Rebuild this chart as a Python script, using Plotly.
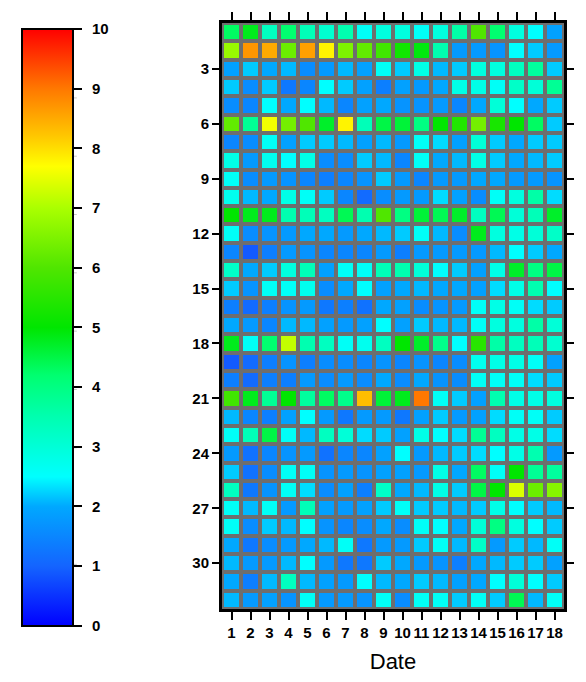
import plotly.graph_objects as go

dates = list(range(1, 19))
rows = list(range(1, 33))
y_ticks = [3, 6, 9, 12, 15, 18, 21, 24, 27, 30]
cbar_ticks = list(range(0, 11))

values = [
    [4.3, 4.8, 3.3, 4.2, 3.4, 3.1, 3.5, 2.6, 2.9, 2.9, 2.6, 2.9, 3.6, 6.0, 4.2, 2.9, 2.5, 1.9],
    [6.8, 8.7, 8.5, 6.3, 8.6, 7.8, 6.5, 6.2, 5.8, 5.2, 4.9, 3.5, 1.8, 1.8, 1.7, 2.5, 2.2, 1.8],
    [1.9, 2.2, 2.0, 2.1, 1.6, 1.8, 2.1, 1.9, 2.6, 2.2, 2.8, 2.1, 2.2, 2.9, 2.9, 3.3, 3.7, 2.2],
    [2.2, 1.6, 2.2, 1.3, 1.5, 2.5, 2.2, 1.9, 1.4, 1.9, 1.8, 2.0, 2.8, 2.8, 2.6, 3.2, 3.0, 3.8],
    [1.6, 1.5, 2.5, 2.0, 2.5, 2.1, 1.5, 1.9, 2.0, 1.7, 1.7, 1.8, 1.5, 2.0, 3.0, 2.5, 2.0, 2.2],
    [6.2, 3.8, 7.6, 6.4, 6.0, 4.7, 7.8, 3.4, 4.5, 4.6, 4.0, 5.0, 5.4, 6.4, 5.3, 5.0, 4.3, 2.2],
    [1.5, 1.6, 2.6, 1.9, 2.2, 2.2, 2.1, 1.9, 2.1, 1.8, 2.6, 2.3, 1.9, 3.0, 2.2, 2.0, 2.2, 2.2],
    [2.8, 1.8, 2.7, 2.5, 2.8, 1.6, 1.6, 2.2, 2.1, 1.5, 2.6, 2.0, 2.1, 2.8, 2.2, 2.0, 2.1, 2.2],
    [2.6, 1.6, 1.8, 1.7, 1.5, 1.4, 1.5, 1.7, 2.2, 1.8, 1.5, 1.8, 1.8, 2.0, 2.0, 1.8, 1.8, 1.7],
    [2.7, 2.1, 2.0, 2.8, 2.6, 2.2, 1.5, 1.1, 1.6, 1.8, 1.8, 2.3, 1.9, 1.6, 2.6, 2.9, 3.6, 2.3],
    [5.0, 4.8, 4.8, 3.5, 3.4, 3.3, 4.4, 3.5, 6.0, 4.0, 4.6, 4.4, 4.7, 3.3, 4.4, 3.0, 3.4, 4.7],
    [2.6, 1.6, 1.7, 1.8, 2.0, 2.0, 1.8, 2.0, 2.1, 2.2, 2.6, 2.1, 1.6, 4.8, 2.9, 2.8, 3.0, 3.2],
    [1.5, 0.9, 1.4, 1.8, 1.7, 1.5, 1.5, 1.5, 1.8, 1.4, 1.8, 1.8, 1.8, 1.8, 2.1, 2.5, 2.2, 2.0],
    [3.2, 2.0, 2.2, 2.9, 3.4, 1.9, 2.6, 2.6, 3.4, 3.5, 3.0, 2.5, 2.2, 1.9, 2.8, 4.7, 4.0, 4.5],
    [2.2, 1.7, 2.6, 2.6, 2.7, 1.6, 2.0, 2.5, 1.9, 2.0, 2.1, 2.0, 2.0, 1.9, 2.3, 2.8, 3.5, 2.5],
    [1.4, 1.1, 1.4, 1.7, 1.8, 1.3, 1.4, 1.2, 2.0, 1.9, 1.6, 1.7, 1.8, 2.6, 2.8, 2.6, 2.3, 2.2],
    [2.0, 1.8, 1.5, 2.1, 2.1, 1.9, 1.8, 1.9, 2.5, 1.9, 2.2, 2.1, 2.1, 2.6, 2.9, 2.9, 3.6, 3.0],
    [4.8, 2.6, 4.2, 7.2, 3.5, 3.3, 2.6, 2.7, 3.3, 5.0, 4.7, 3.9, 2.5, 5.5, 3.6, 3.3, 3.4, 3.1],
    [0.9, 1.1, 1.4, 1.7, 1.4, 1.6, 1.6, 1.5, 1.7, 1.5, 1.7, 1.5, 1.6, 2.7, 2.8, 2.8, 2.6, 1.9],
    [1.4, 1.1, 1.4, 1.4, 1.8, 1.6, 1.8, 1.6, 2.0, 1.6, 2.0, 1.7, 1.6, 2.6, 2.6, 2.6, 2.3, 2.2],
    [5.8, 4.8, 3.8, 5.0, 3.7, 4.3, 3.9, 8.3, 4.6, 4.8, 9.0, 2.6, 2.2, 1.9, 3.5, 2.8, 2.8, 2.9],
    [2.1, 1.5, 1.4, 1.9, 2.5, 1.8, 1.3, 1.8, 1.8, 1.3, 1.9, 2.2, 1.8, 1.9, 2.3, 2.6, 2.6, 2.2],
    [2.6, 3.4, 4.5, 2.6, 2.1, 3.3, 3.0, 2.3, 2.2, 1.9, 2.8, 2.5, 2.3, 3.8, 3.3, 2.8, 2.8, 2.3],
    [1.8, 1.2, 1.5, 1.7, 1.8, 1.2, 1.5, 1.5, 1.9, 2.5, 1.8, 2.1, 2.2, 2.3, 2.5, 2.8, 3.5, 1.8],
    [2.2, 1.2, 1.6, 2.6, 2.6, 1.7, 1.8, 1.7, 1.9, 1.9, 1.8, 2.8, 2.0, 4.3, 2.6, 5.0, 3.8, 3.7],
    [3.3, 1.3, 1.7, 2.6, 2.3, 1.6, 1.9, 1.4, 3.2, 2.0, 2.1, 2.8, 2.2, 4.5, 5.0, 7.4, 6.3, 6.6],
    [2.6, 2.1, 2.6, 1.8, 3.4, 1.9, 1.8, 1.9, 2.2, 2.6, 2.2, 2.2, 2.1, 2.2, 2.8, 2.5, 2.2, 2.1],
    [2.6, 1.6, 2.2, 2.1, 2.5, 1.7, 1.5, 1.6, 2.0, 1.6, 2.6, 2.5, 2.0, 3.0, 4.0, 2.9, 2.5, 2.2],
    [2.0, 1.3, 1.6, 1.8, 2.0, 2.1, 2.6, 1.3, 1.8, 1.8, 2.2, 2.6, 2.1, 3.2, 1.8, 2.2, 2.1, 2.6],
    [2.1, 1.8, 1.8, 2.1, 2.5, 1.8, 1.3, 1.3, 2.2, 2.0, 1.8, 1.7, 1.4, 2.0, 2.1, 2.2, 2.2, 1.9],
    [2.0, 1.4, 2.1, 3.3, 2.1, 1.9, 1.8, 2.5, 2.1, 2.0, 2.2, 2.1, 1.9, 2.0, 2.5, 3.0, 2.5, 2.2],
    [2.1, 1.8, 1.9, 1.7, 2.6, 1.8, 1.8, 1.7, 2.6, 1.6, 2.6, 2.6, 2.2, 2.6, 2.2, 4.4, 2.1, 2.6],
]

jet = [
    [0.00, "#0000ff"],
    [0.10, "#1464ff"],
    [0.20, "#00a8ff"],
    [0.25, "#00ffff"],
    [0.35, "#00ffb0"],
    [0.42, "#00ff70"],
    [0.50, "#00e600"],
    [0.60, "#50e600"],
    [0.70, "#aaff00"],
    [0.77, "#ffff00"],
    [0.82, "#ffc800"],
    [0.90, "#ff7800"],
    [1.00, "#ff0000"],
]

W, H = 586, 682
pl, pr, pt, pb = 222, 13, 12, 70
pw, ph = W - pl - pr, H - pt - pb
# visible bar: x 22..73, y 29..626 (placement offsets compensate plotly padding)
cb_top, cb_bot, cb_left, cb_w = 29, 626, 22, 51
cb_dx, cb_dy = 5, 11

fig = go.Figure(
    go.Heatmap(
        z=values,
        x=dates,
        y=rows,
        zmin=0,
        zmax=10,
        colorscale=jet,
        xgap=4,
        ygap=4,
        colorbar=dict(
            x=(cb_left - cb_dx - pl) / pw,
            xanchor="left",
            y=(H - pb - (cb_top - cb_dy)) / ph,
            yanchor="top",
            lenmode="pixels",
            len=cb_bot - cb_top,
            thicknessmode="pixels",
            thickness=cb_w,
            outlinecolor="black",
            outlinewidth=2,
            tickvals=cbar_ticks,
            ticktext=["\u2002" + str(v) for v in cbar_ticks],
            ticks="outside",
            ticklen=8,
            tickwidth=2,
            tickcolor="black",
            tickfont=dict(family="Liberation Sans", size=15, color="black", weight="bold"),
            xpad=0,
            ypad=0,
        ),
    )
)

# thin lines across the colorbar at each integer tick
shapes = []
for v in cbar_ticks[1:-1]:
    ypix = cb_bot - (cb_bot - cb_top) * v / 10
    shapes.append(dict(
        type="line", xref="paper", yref="paper",
        x0=(cb_left - pl) / pw, x1=(cb_left + cb_w - pl) / pw,
        y0=(H - pb - ypix) / ph, y1=(H - pb - ypix) / ph,
        line=dict(color="rgba(0,0,0,0.22)", width=1),
    ))

fig.update_layout(
    width=W,
    height=H,
    margin=dict(l=pl, r=pr, t=pt, b=pb),
    paper_bgcolor="white",
    plot_bgcolor="#6e6e6e",
    shapes=shapes,
    font=dict(family="Liberation Sans", color="black"),
    xaxis=dict(
        tickvals=dates,
        ticktext=[str(d) for d in dates],
        range=[0.5, 18.5],
        ticks="outside",
        ticklen=8,
        tickwidth=2,
        tickcolor="black",
        showline=True,
        linecolor="black",
        linewidth=3,
        mirror="ticks",
        showgrid=False,
        zeroline=False,
        tickangle=0,
        tickfont=dict(size=15, weight="bold"),
        title=dict(text="Date", font=dict(size=22), standoff=14),
    ),
    yaxis=dict(
        tickvals=y_ticks,
        range=[32.5, 0.5],
        ticks="outside",
        ticklen=7,
        tickwidth=2,
        tickcolor="black",
        showline=True,
        linecolor="black",
        linewidth=3,
        mirror="ticks",
        showgrid=False,
        zeroline=False,
        tickfont=dict(size=15, weight="bold"),
    ),
)

fig.write_html("out.html")
